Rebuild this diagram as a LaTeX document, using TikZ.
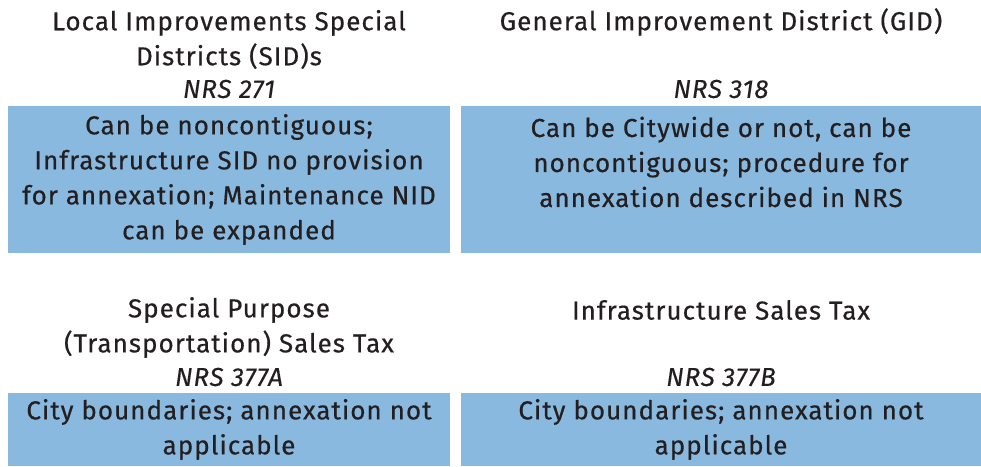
\documentclass[tikz,border=0pt]{standalone}
\usepackage{fontspec}
\setmainfont{Fira Sans}[FakeBold=0.5,LetterSpace=4]
\newfontfamily\lawfont{Fira Sans}[LetterSpace=3,FakeBold=0.2]
\definecolor{boxblue}{RGB}{138,185,224}
\definecolor{ink}{RGB}{35,31,32}
\begin{document}
\begin{tikzpicture}[x=1pt,y=1pt,
  txt/.style={inner sep=0pt,align=center,text=ink,font=\fontsize{26}{35}\selectfont},
  law/.style={inner sep=0pt,text=ink,font=\lawfont\fontsize{26}{30}\selectfont\itshape},
  infobox/.style={fill=boxblue,draw=none,inner sep=0pt}]
\useasboundingbox (0,0) rectangle (981,466);
% boxes
\path[infobox] (8,466-106) rectangle (450,466-253) node[pos=0.5] (b1) {};
\path[infobox] (461,466-106) rectangle (981,466-253) node[pos=0.5] (b2) {};
\path[infobox] (8,466-393) rectangle (450,0) node[pos=0.5] (b3) {};
\path[infobox] (461,466-393) rectangle (981,0) node[pos=0.5] (b4) {};
% titles
\node[txt] (t1) at (229,466-39.5) {Local Improvements Special\\Districts (SID)s};
\node[law] (l1) at (229,466-89) {NRS 271};
\node[txt] (t2) at (721,466-22) {General Improvement District (GID)};
\node[law] (l2) at (721,466-89) {NRS 318};
\node[txt] (t3) at (229,466-327.5) {Special Purpose\\(Transportation) Sales Tax};
\node[law] (l3) at (229,466-377) {NRS 377A};
\node[txt] (t4) at (721,466-310) {Infrastructure Sales Tax};
\node[law] (l4) at (721,466-377) {NRS 377B};
% box texts
\node[txt] (x1) at (229,466-179.5) {Can be noncontiguous;\\Infrastructure SID no provision\\for annexation; Maintenance NID\\can be expanded};
\node[txt] (x2) at (721,466-162) {Can be Citywide or not, can be\\noncontiguous; procedure for\\annexation described in NRS};
\node[txt] (x3) at (229,466-429.5) {City boundaries; annexation not\\applicable};
\node[txt] (x4) at (721,466-429.5) {City boundaries; annexation not\\applicable};
\end{tikzpicture}
\end{document}
